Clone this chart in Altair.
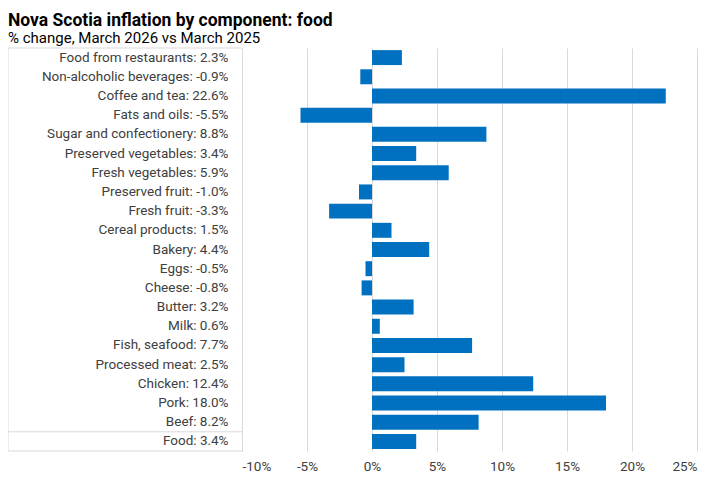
import altair as alt
import pandas as pd

categories = [
    "Food from restaurants", "Non-alcoholic beverages", "Coffee and tea", "Fats and oils",
    "Sugar and confectionery", "Preserved vegetables", "Fresh vegetables", "Preserved fruit",
    "Fresh fruit", "Cereal products", "Bakery", "Eggs", "Cheese", "Butter", "Milk",
    "Fish, seafood", "Processed meat", "Chicken", "Pork", "Beef", "Food",
]
values = [2.3, -0.9, 22.6, -5.5, 8.8, 3.4, 5.9, -1.0, -3.3, 1.5, 4.4, -0.5, -0.8, 3.2, 0.6,
          7.7, 2.5, 12.4, 18.0, 8.2, 3.4]
tick_values = [-10, -5, 0, 5, 10, 15, 20, 25]

labels = [f"{c}: {v:.1f}%" for c, v in zip(categories, values)]
df = pd.DataFrame({"category": categories, "value": values, "label": labels})

W, H = 455, 403
LEFT = 234
n = len(categories)
step = H / n
font = "Roboto"
textc = "#404040"
gridc = "#d9d9d9"

y = alt.Y(
    "label:N", sort=labels, title=None,
    scale=alt.Scale(paddingInner=0.22, paddingOuter=0.11),
    axis=alt.Axis(labelAlign="right", labelPadding=14, ticks=False, domain=True,
                  domainColor=gridc, labelFont=font, labelFontSize=13.5,
                  labelColor=textc, labelLimit=240),
)

bars = alt.Chart(df).mark_bar(color="#0070C0").encode(
    x=alt.X("value:Q", title=None,
            scale=alt.Scale(domain=[tick_values[0], tick_values[-1]], nice=False, zero=False),
            axis=alt.Axis(values=tick_values, labelExpr="datum.value + '%'", grid=True,
                          gridColor=gridc, domain=False, ticks=False, labelPadding=8,
                          labelFont=font, labelFontSize=13.5, labelColor=textc)),
    y=y,
)

one = pd.DataFrame({"a": [0]})
rule_style = dict(color=gridc, strokeWidth=1)
top = alt.Chart(one).mark_rule(**rule_style).encode(
    x=alt.value(-LEFT), x2=alt.value(0), y=alt.value(0))
bottom = alt.Chart(one).mark_rule(**rule_style).encode(
    x=alt.value(-LEFT), x2=alt.value(0), y=alt.value(H))
sep = alt.Chart(one).mark_rule(**rule_style).encode(
    x=alt.value(-LEFT), x2=alt.value(0), y=alt.value((n - 1) * step))
left = alt.Chart(one).mark_rule(**rule_style).encode(
    x=alt.value(-LEFT), y=alt.value(0), y2=alt.value(H))

chart = alt.layer(bars, top, bottom, sep, left).properties(
    width=W, height=H,
    autosize=alt.AutoSizeParams(type="none"),
    padding={"left": LEFT, "top": 40, "right": 16, "bottom": 22},
    title=alt.TitleParams(
        text="Nova Scotia inflation by component: food",
        subtitle="% change, March 2026 vs March 2025",
        anchor="start", frame="group", dx=-LEFT, offset=2, subtitlePadding=1,
        font=font, fontSize=17.5, fontWeight="bold", color="black",
        subtitleFont=font, subtitleFontSize=15, subtitleColor="black",
    ),
).configure_view(stroke=None)

chart.save("out.html", embed_options={"renderer": "svg", "actions": False})
